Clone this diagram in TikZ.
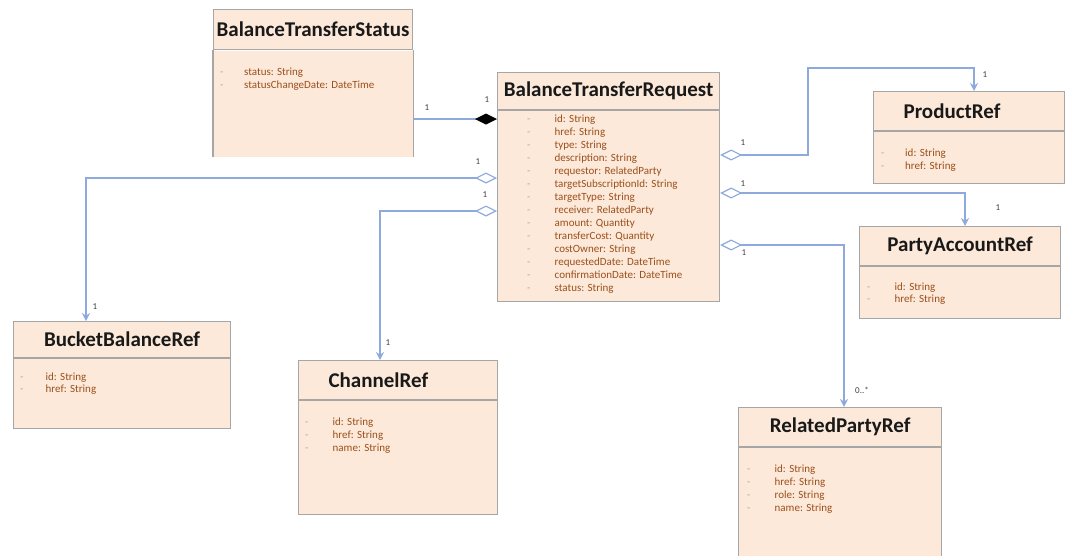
\documentclass[tikz,border=0pt]{standalone}
\usepackage{fontspec}
\setmainfont{Carlito}
\usetikzlibrary{arrows.meta, positioning}

\definecolor{boxfill}{HTML}{FCE9DA}
\definecolor{boxline}{HTML}{A6A6A6}
\definecolor{attrtext}{HTML}{9C4F1A}
\definecolor{dashgray}{HTML}{B8A898}
\definecolor{linkblue}{HTML}{8EA9DB}

% dash in front of each attribute
\newcommand{\udash}[1][24pt]{\makebox[#1][l]{\color{dashgray}-}}

\begin{document}
\begin{tikzpicture}[
    x=1pt, y=-1pt,
    hdr/.style = {rectangle, draw=boxline, fill=boxfill, line width=1.2pt, inner xsep=0pt, anchor=north west, font=\fontsize{21}{24}\selectfont\bfseries, text=black!90},
    hdrleft/.style = {hdr, align=left, inner xsep=30pt, text width=#1},
    body/.style = {rectangle, draw=boxline, fill=boxfill, line width=1.2pt},
    attr/.style = {anchor=north west, inner sep=0pt, align=left, text=attrtext, font=\fontsize{11}{13}\selectfont},
    agg/.style = {draw=linkblue, line width=1.8pt, {Diamond[open, length=22pt, width=11pt, line width=1.2pt]}-{Stealth[length=8pt, width=8pt]}},
    comp/.style = {draw=linkblue, line width=1.8pt, {Diamond[length=22pt, width=11pt, black]}-},
    mult/.style = {inner sep=0pt, text=black!75, font=\fontsize{9}{10}\selectfont}
]
\useasboundingbox (0,0) rectangle (1065,555);

% Class boxes
\node[hdr, minimum width=199pt, minimum height=40pt] (sth) at (213,9) {BalanceTransferStatus};
\node[body, draw=none, minimum width=199pt, minimum height=106pt, below=0pt of sth] (stb) {};
\draw[boxline, line width=1.2pt] (stb.north west) -- (stb.south west) (stb.north east) -- (stb.south east);
\node[attr] (sta) at ([shift={(7pt,-17.5pt)}]stb.north west) {%
  \udash status: String\\
  \udash statusChangeDate: DateTime};

\node[hdr, minimum width=222pt, minimum height=37pt] (rqh) at (497,72) {BalanceTransferRequest};
\node[body, minimum width=222pt, minimum height=191pt, below=0pt of rqh] (rqb) {};
\node[attr] (rqa) at ([shift={(30pt,-4.5pt)}]rqb.north west) {%
  \udash[25pt] id: String\\
  \udash[25pt] href: String\\
  \udash[25pt] type: String\\
  \udash[25pt] description: String\\
  \udash[25pt] requestor: RelatedParty\\
  \udash[25pt] targetSubscriptionId: String\\
  \udash[25pt] targetType: String\\
  \udash[25pt] receiver: RelatedParty\\
  \udash[25pt] amount: Quantity\\
  \udash[25pt] transferCost: Quantity\\
  \udash[25pt] costOwner: String\\
  \udash[25pt] requestedDate: DateTime\\
  \udash[25pt] confirmationDate: DateTime\\
  \udash[25pt] status: String};

\node[hdrleft=131pt, minimum width=191pt, minimum height=39pt] (prh) at (873,91) {ProductRef};
\node[body, minimum width=191pt, minimum height=52pt, below=0pt of prh] (prb) {};
\node[attr] (pra) at ([shift={(8pt,-17.5pt)}]prb.north west) {%
  \udash id: String\\
  \udash href: String};

\node[hdr, minimum width=201pt, minimum height=39pt] (pah) at (859,226) {PartyAccountRef};
\node[body, minimum width=201pt, minimum height=52pt, below=0pt of pah] (pab) {};
\node[attr, font=\fontsize{11}{11.5}\selectfont] (paa) at ([shift={(8pt,-16.5pt)}]pab.north west) {%
  \udash[25pt] id: String\\
  \udash[25pt] href: String};

\node[hdr, minimum width=217pt, minimum height=36pt] (bbh) at (13,321) {BucketBalanceRef};
\node[body, minimum width=217pt, minimum height=70pt, below=0pt of bbh] (bbb) {};
\node[attr, font=\fontsize{11}{12}\selectfont] (bba) at ([shift={(7pt,-14.5pt)}]bbb.north west) {%
  \udash[23pt] id: String\\
  \udash[23pt] href: String};

\node[hdrleft=139pt, minimum width=199pt, minimum height=39pt] (chh) at (298,360) {ChannelRef};
\node[body, minimum width=199pt, minimum height=114pt, below=0pt of chh] (chb) {};
\node[attr] (cha) at ([shift={(7pt,-17.5pt)}]chb.north west) {%
  \udash[25pt] id: String\\
  \udash[25pt] href: String\\
  \udash[25pt] name: String};

\node[hdr, minimum width=203pt, minimum height=39pt] (rph) at (738,407) {RelatedPartyRef};
\node[body, minimum width=203pt, minimum height=120pt, below=0pt of rph] (rpb) {};
\node[attr] (rpa) at ([shift={(9pt,-17.5pt)}]rpb.north west) {%
  \udash[25pt] id: String\\
  \udash[25pt] href: String\\
  \udash[25pt] role: String\\
  \udash[25pt] name: String};

% Associations
\draw[comp] (rqb.west |- 0,119) -- (stb.east |- 0,119);
\draw[agg] (rqb.east |- 0,155) -| (808,68) -| (prh.north -| 974,0);
\draw[agg] (rqb.east |- 0,193) -| (pah.north -| 965,0);
\draw[agg] (rqb.east |- 0,245) -| (rph.north -| 844,0);
\draw[agg] (rqb.west |- 0,178) -| (bbh.north -| 86,0);
\draw[agg] (rqb.west |- 0,211) -| (chh.north -| 380,0);

% Multiplicities
\node[mult] (mst) at (427,108) {1};
\node[mult] (mrq) at (487,100) {1};
\node[mult] (mpr1) at (743,143) {1};
\node[mult] (mpr2) at (985,75) {1};
\node[mult] (mpa1) at (743,184) {1};
\node[mult] (mpa2) at (998,208) {1};
\node[mult] (mrp1) at (744,253) {1};
\node[mult] (mrp2) at (862,390) {0..*};
\node[mult] (mbb1) at (478,162) {1};
\node[mult] (mbb2) at (95,307) {1};
\node[mult] (mch1) at (485,195) {1};
\node[mult] (mch2) at (388,343) {1};

\end{tikzpicture}
\end{document}
